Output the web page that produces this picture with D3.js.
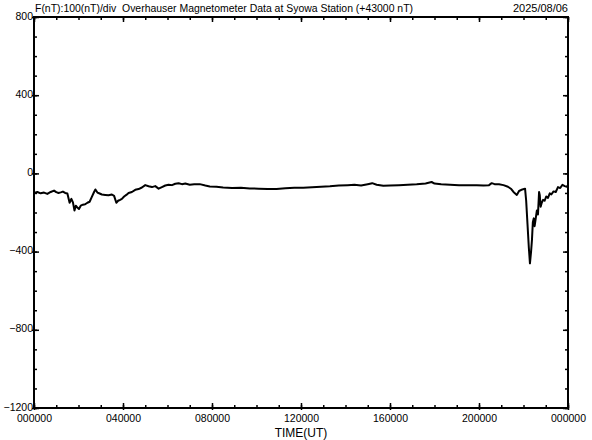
<!DOCTYPE html>
<html>
<head>
<meta charset="utf-8">
<script src="https://cdn.jsdelivr.net/npm/d3@7"></script>
<style>
  body { margin: 0; background: #fff; }
  text { font-family: "Liberation Sans", Arial, sans-serif; fill: #000; }
</style>
</head>
<body>
<div id="chart"></div>
<script>
var svgWidth = 592;
var svgHeight = 440;

var margin = { top: 17, right: 24, bottom: 32, left: 34 };
var width = svgWidth - margin.left - margin.right;
var height = svgHeight - margin.top - margin.bottom;

// time in hours UT, field in nT (offset from 43000 nT)
var hours = [0, 0.15, 0.3, 0.45, 0.6, 0.75, 0.9, 1.0, 1.1, 1.2, 1.3, 1.4, 1.5, 1.6, 1.68, 1.75, 1.82, 1.88, 1.95, 2.02,
  2.1, 2.2, 2.3, 2.4, 2.5, 2.6, 2.7, 2.76, 2.85, 2.95, 3.05, 3.2, 3.35, 3.5, 3.6, 3.7, 3.78, 3.87, 3.95, 4.05,
  4.15, 4.25, 4.4, 4.55, 4.7, 4.85, 5.0, 5.15, 5.3, 5.45, 5.6, 5.75, 5.9, 6.05, 6.2, 6.35, 6.5, 6.65, 6.8, 7.0,
  7.2, 7.45, 7.7, 7.9, 8.2, 8.5, 8.9, 9.3, 9.7, 10.1, 10.5, 10.9, 11.3, 11.7, 12.1, 12.5, 12.9, 13.3, 13.7, 14.1,
  14.4, 14.7, 15.0, 15.2, 15.4, 15.7, 16.0, 16.4, 16.8, 17.2, 17.6, 17.87, 18.0, 18.3, 18.7, 19.1, 19.5, 19.9, 20.2, 20.45,
  20.57, 20.7, 20.9, 21.1, 21.3, 21.45, 21.55, 21.7, 21.8, 21.95, 22.07, 22.12, 22.18, 22.24, 22.29, 22.34, 22.38, 22.42, 22.46, 22.5,
  22.55, 22.6, 22.65, 22.7, 22.73, 22.77, 22.82, 22.88, 22.95, 23.02, 23.1, 23.18, 23.25, 23.35, 23.45, 23.55, 23.65, 23.75, 23.85, 23.95, 24.0];
var fieldNT = [-100, -95, -102, -98, -105, -95, -88, -96, -100, -97, -93, -100, -103, -150, -130, -148, -190, -165, -175, -182,
  -165, -160, -158, -150, -145, -120, -95, -82, -98, -103, -108, -110, -112, -108, -115, -150, -140, -135, -130, -118,
  -110, -100, -95, -84, -80, -72, -60, -66, -70, -65, -78, -70, -62, -58, -60, -53, -50, -55, -52, -58,
  -56, -55, -62, -67, -68, -72, -75, -73, -77, -78, -80, -80, -76, -74, -73, -71, -68, -66, -62, -60,
  -58, -62, -55, -50, -58, -63, -62, -60, -58, -56, -52, -44, -52, -56, -58, -60, -60, -60, -62, -60,
  -50, -55, -56, -60, -68, -80, -95, -110, -90, -82, -78, -140, -260, -380, -460, -400, -340, -250, -230, -270,
  -230, -190, -210, -95, -110, -170, -150, -135, -140, -118, -125, -102, -108, -92, -95, -70, -75, -58, -65, -68, -62];

var yMajor = [-1200, -800, -400, 0, 400, 800];
var yMinor = d3.range(-1200, 801, 100);
var xMajor = [0, 4, 8, 12, 16, 20, 24];
var xMinor = d3.range(0, 25, 1);

var titleText = "F(nT):100(nT)/div  Overhauser Magnetometer Data at Syowa Station (+43000 nT)";
var dateText = "2025/08/06";
var xTitle = "TIME(UT)";

var svg = d3.select("#chart")
  .append("svg")
  .attr("width", svgWidth)
  .attr("height", svgHeight);

var chartGroup = svg.append("g")
  .attr("transform", `translate(${margin.left}, ${margin.top})`);

var xScale = d3.scaleLinear().domain([0, 24]).range([0, width]);
var yScale = d3.scaleLinear().domain([-1200, 800]).range([height, 0]);

function fmtTime(h) {
  var hh = h % 24;
  return d3.format("02d")(hh) + "0000";
}

// minor ticks, all four sides
chartGroup.append("g").attr("class", "minor")
  .attr("transform", `translate(0, ${height})`)
  .call(d3.axisBottom(xScale).tickValues(xMinor).tickSizeInner(-3).tickSizeOuter(0).tickFormat(""));
chartGroup.append("g").attr("class", "minor")
  .call(d3.axisTop(xScale).tickValues(xMinor).tickSizeInner(-3).tickSizeOuter(0).tickFormat(""));
chartGroup.append("g").attr("class", "minor")
  .call(d3.axisLeft(yScale).tickValues(yMinor).tickSizeInner(-3).tickSizeOuter(0).tickFormat(""));
chartGroup.append("g").attr("class", "minor")
  .attr("transform", `translate(${width}, 0)`)
  .call(d3.axisRight(yScale).tickValues(yMinor).tickSizeInner(-3).tickSizeOuter(0).tickFormat(""));

// major ticks with labels
var xAxis = chartGroup.append("g")
  .attr("transform", `translate(0, ${height})`)
  .call(d3.axisBottom(xScale).tickValues(xMajor).tickSizeInner(-5).tickSizeOuter(0).tickFormat(fmtTime));
xAxis.selectAll(".tick line").attr("y1", 2);
xAxis.selectAll(".tick text").attr("y", 7).attr("dy", "0.71em");

chartGroup.append("g")
  .call(d3.axisTop(xScale).tickValues(xMajor).tickSizeInner(-5).tickSizeOuter(0).tickFormat(""));

var yAxis = chartGroup.append("g")
  .call(d3.axisLeft(yScale).tickValues(yMajor).tickSizeInner(-5).tickSizeOuter(0).tickFormat(d3.format("d")));
yAxis.selectAll(".tick line").attr("x1", -2);
yAxis.selectAll(".tick text").attr("x", -1).attr("dy", "0.2em");

chartGroup.append("g")
  .attr("transform", `translate(${width}, 0)`)
  .call(d3.axisRight(yScale).tickValues(yMajor).tickSizeInner(-5).tickSizeOuter(0).tickFormat(""));

chartGroup.selectAll(".domain").remove();
chartGroup.selectAll(".tick line").attr("stroke", "#000").attr("stroke-width", 1.5);
chartGroup.selectAll(".tick text").attr("font-size", 10.5).attr("fill", "#000")
  .attr("font-family", "'Liberation Sans', Arial, sans-serif");

// frame
chartGroup.append("rect")
  .attr("x", 0).attr("y", 0)
  .attr("width", width).attr("height", height)
  .attr("fill", "none")
  .attr("stroke", "#000")
  .attr("stroke-width", 2);

// data line
var line = d3.line()
  .x((d, i) => xScale(hours[i]))
  .y(d => yScale(d));

chartGroup.append("path")
  .datum(fieldNT)
  .attr("fill", "none")
  .attr("stroke", "#000")
  .attr("stroke-width", 2)
  .attr("stroke-linejoin", "round")
  .attr("d", line);

// titles
svg.append("text")
  .attr("x", margin.left + 1)
  .attr("y", 12)
  .attr("font-size", 11)
  .attr("textLength", 378)
  .attr("lengthAdjust", "spacingAndGlyphs")
  .style("white-space", "pre")
  .text(titleText);

svg.append("text")
  .attr("x", margin.left + width)
  .attr("y", 12)
  .attr("font-size", 11)
  .attr("text-anchor", "end")
  .text(dateText);

svg.append("text")
  .attr("x", margin.left + width / 2)
  .attr("y", 437)
  .attr("font-size", 12)
  .attr("text-anchor", "middle")
  .text(xTitle);
</script>
</body>
</html>
